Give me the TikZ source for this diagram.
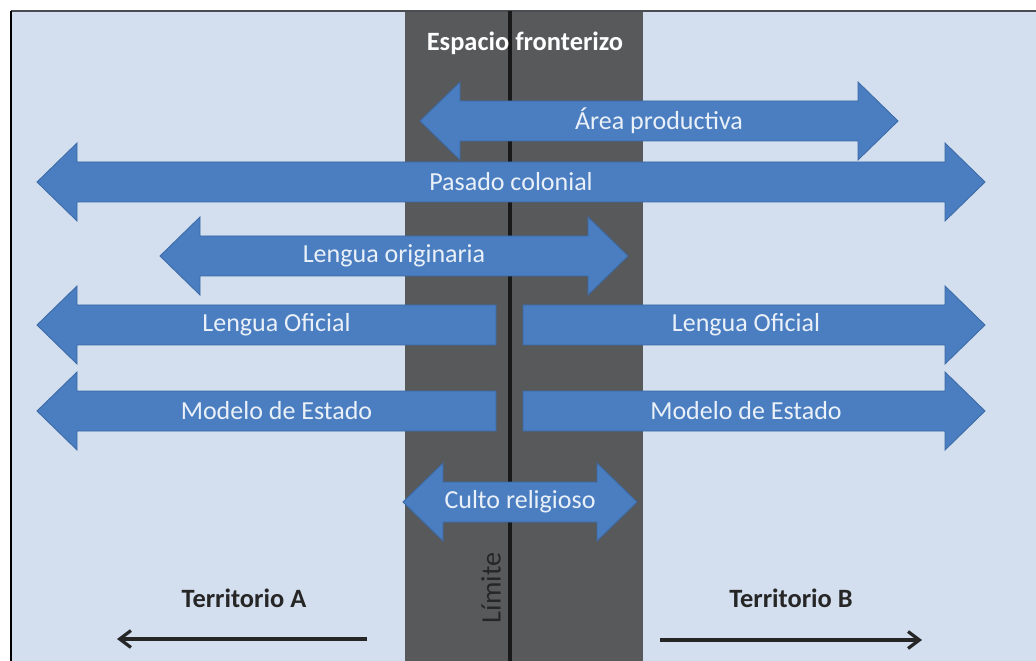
\documentclass[tikz,border=0pt]{standalone}
\usepackage{fontspec}
\setmainfont{Carlito}
\usetikzlibrary{arrows.meta}
\definecolor{fondo}{HTML}{D3DFEE}
\definecolor{banda}{HTML}{58595B}
\definecolor{azul}{HTML}{4A7EC1}
\definecolor{borde}{HTML}{3B6AA6}
\definecolor{claro}{HTML}{EAF0F8}
\tikzstyle{blockarrow}=[fill=azul, draw=borde, line width=.6pt, line join=miter]
\tikzstyle{arrowtext}=[text=claro, font=\fontsize{18.5}{22}\selectfont, inner sep=0pt]
\tikzstyle{title}=[font=\fontsize{18.8}{22}\selectfont\bfseries, inner sep=0pt]
\tikzstyle{territory}=[line width=2.3pt, black!85, -{Straight Barb[length=8pt,width=12pt]}]
% block arrows: name, left x, right x, middle y, text
\newcommand{\dblarrow}[5]{%
  \draw[blockarrow] (#2,#4) -- (#2+40,#4-39) -- (#2+40,#4-20) -- (#3-40,#4-20)
    -- (#3-40,#4-39) -- (#3,#4) -- (#3-40,#4+39) -- (#3-40,#4+20)
    -- (#2+40,#4+20) -- (#2+40,#4+39) -- cycle;
  \node[arrowtext] (#1) at ({(#2+#3)/2},#4) {#5};}
\newcommand{\lftarrow}[5]{%
  \draw[blockarrow] (#2,#4) -- (#2+40,#4-39) -- (#2+40,#4-20) -- (#3,#4-20)
    -- (#3,#4+20) -- (#2+40,#4+20) -- (#2+40,#4+39) -- cycle;
  \node[arrowtext] (#1) at ({(#2+#3)/2+10},#4) {#5};}
\newcommand{\rgtarrow}[5]{%
  \draw[blockarrow] (#2,#4-20) -- (#3-40,#4-20) -- (#3-40,#4-39) -- (#3,#4)
    -- (#3-40,#4+39) -- (#3-40,#4+20) -- (#2,#4+20) -- cycle;
  \node[arrowtext] (#1) at ({(#2+#3)/2-8},#4) {#5};}
\begin{document}
\begin{tikzpicture}[x=0.025cm,y=-0.025cm]
    \useasboundingbox (0,0) rectangle (1036,661);

    % Background
    \fill[fondo] (11,11) rectangle (1036,661);
    \fill[banda] (405,11) rectangle (643,661);
    \draw[line width=1.4pt, black!65!fondo] (11,11) -- (1036,11);
    \draw[line width=1.2pt, black] (11,11) -- (11,661);
    \coordinate (top) at (510,11);
    \coordinate (bottom) at (510,661);
    \draw[line width=2.2pt, black!90] (top) -- (bottom);

    % Arrows
    \dblarrow{area}{420}{898}{121}{Área productiva}
    \dblarrow{pasado}{37}{985}{182}{Pasado colonial}
    \dblarrow{originaria}{160}{628}{256}{Lengua originaria}
    \lftarrow{oficialA}{37}{496}{325}{Lengua Oficial}
    \rgtarrow{oficialB}{523}{985}{325}{Lengua Oficial}
    \lftarrow{modeloA}{37}{496}{411}{Modelo de Estado}
    \rgtarrow{modeloB}{523}{985}{411}{Modelo de Estado}
    \dblarrow{culto}{403}{637}{502}{Culto religioso}

    % Labels
    \node[title, white] (espacio) at (525,43) {Espacio fronterizo};
    \node[rotate=90, text=black!85, font=\fontsize{20}{22}\selectfont, inner sep=0pt] (limite) at (491,588) {Límite};
    \node[title, text=black!85] (terrA) at (244,598) {Territorio A};
    \node[title, text=black!85] (terrB) at (791,598) {Territorio B};
    \coordinate (a1) at (367,639);
    \coordinate (a2) at (117,639);
    \coordinate (b1) at (660,640);
    \coordinate (b2) at (922,640);
    \draw[territory] (a1) -- (a2);
    \draw[territory] (b1) -- (b2);

\end{tikzpicture}
\end{document}
